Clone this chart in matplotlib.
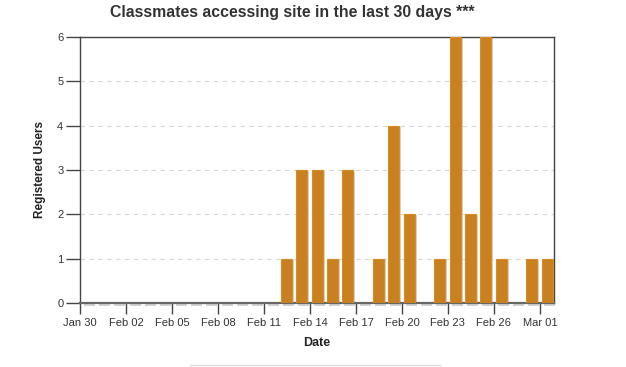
import datetime as dt
import matplotlib
matplotlib.use("Agg")
import matplotlib.pyplot as plt
import matplotlib.dates as mdates

plt.rcParams['font.family'] = ['Liberation Sans', 'DejaVu Sans']

# daily registered users, Jan 30 .. Mar 01
start = dt.date(2014, 1, 30)
days = [start + dt.timedelta(days=i) for i in range(31)]
users = [0] * 13 + [1, 3, 3, 1, 3, 0, 1, 4, 2, 0, 1, 6, 2, 6, 1, 0, 1, 1]
tick_days = [start + dt.timedelta(days=3 * i) for i in range(11)]
tick_labels = [d.strftime('%b %d') for d in tick_days]

fig = plt.figure(figsize=(6.26, 3.67), dpi=100)
ax = fig.add_axes([80 / 626, 64 / 367, 474 / 626, 266 / 367])

x = mdates.date2num(days)
# shadows first, then the bars
ax.bar(x + 0.6, [u + 0.05 for u in users], width=0.72, bottom=-0.07,
       color='#d2d2d2', zorder=2, clip_on=False)
ax.bar(x + 0.47, users, width=0.72, color='#c98020', edgecolor='#d98c22',
       linewidth=0.8, zorder=3)

ax.set_xlim(mdates.date2num(start), mdates.date2num(start) + 30.92)
ax.set_ylim(0, 6)
ax.set_xticks(mdates.date2num(tick_days))
ax.set_xticklabels(tick_labels)
ax.set_yticks(range(7))

ax.yaxis.grid(True, linestyle=(0, (4, 4)), color='#d5d5d5', linewidth=0.8)
ax.set_axisbelow(True)
for s in ax.spines.values():
    s.set_color('#444444')
    s.set_linewidth(1)
ax.spines['bottom'].set_linewidth(1.6)
ax.spines['bottom'].set_color('#666666')
ax.tick_params(axis='both', direction='out', length=8, width=1, color='#444444',
               labelsize=8, labelcolor='#333333', pad=3)
ax.tick_params(axis='y', length=10, pad=2)

ax.set_xlabel('Date', fontsize=9, fontweight='bold', color='#222222', labelpad=6)
ax.set_ylabel('Registered Users', fontsize=8.5, fontweight='bold', color='#222222', labelpad=8)

fig.text(292 / 626, 1 - 13 / 367, 'Classmates accessing site in the last 30 days ***',
         ha='center', va='center', fontsize=11.4, fontweight='bold', color='#333333')

fig.add_artist(plt.Line2D([190 / 626, 440 / 626], [2 / 367, 2 / 367],
                          color='#dddddd', linewidth=1))

fig.savefig('out.png', dpi=100)
